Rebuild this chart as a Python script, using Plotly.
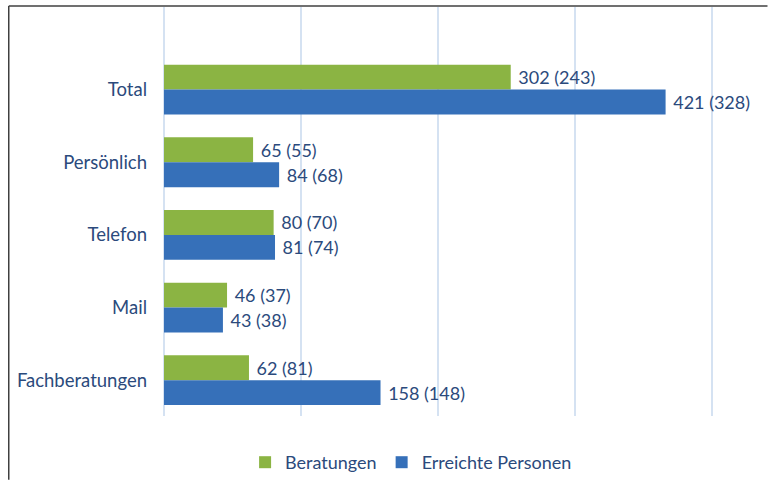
import plotly.graph_objects as go

categories = ["Total", "Persönlich", "Telefon", "Mail", "Fachberatungen"]
beratungen = [253, 65, 80, 46, 62]
beratungen_labels = ["302 (243)", "65 (55)", "80 (70)", "46 (37)", "62 (81)"]
personen = [366, 84, 81, 43, 158]
personen_labels = ["421 (328)", "84 (68)", "81 (74)", "43 (38)", "158 (148)"]

FONT = "Lato, 'Open Sans', sans-serif"
TXT = "#2B4A7C"

fig = go.Figure()
fig.add_trace(go.Bar(
    y=categories, x=beratungen, orientation="h", name="Beratungen",
    marker=dict(color="#8BB443", line=dict(width=0)),
    text=beratungen_labels, texttemplate="\u00a0%{text}",
    textposition="outside", cliponaxis=False,
    textfont=dict(family=FONT, size=18, color=TXT),
))
fig.add_trace(go.Bar(
    y=categories, x=personen, orientation="h", name="Erreichte Personen",
    marker=dict(color="#3670B9", line=dict(width=0)),
    text=personen_labels, texttemplate="\u00a0%{text}",
    textposition="outside", cliponaxis=False,
    textfont=dict(family=FONT, size=18, color=TXT),
))

W, H = 768, 481
L, R, T, B = 163.5, 0.5, 7, 64
pw = W - L - R
ph = H - T - B

def px_x(p):
    return (p - L) / pw

def px_y(p):
    return (H - B - p) / ph

fig.update_layout(
    width=W, height=H,
    margin=dict(l=L, r=R, t=T, b=B, pad=0),
    paper_bgcolor="white", plot_bgcolor="white",
    barmode="group", bargap=0.315, bargroupgap=0,
    font=dict(family=FONT, size=18, color=TXT),
    uniformtext=dict(minsize=18, mode="show"),
    xaxis=dict(range=[0, 440], tick0=0, dtick=100, showticklabels=False,
               showgrid=True, gridcolor="#D5E2F2", gridwidth=1.5,
               zeroline=True, zerolinecolor="#D5E2F2", zerolinewidth=1.5,
               showline=False, fixedrange=True),
    yaxis=dict(type="category", categoryorder="array", categoryarray=categories,
               range=[4.493, -1.137], showgrid=False, zeroline=False,
               showline=False, ticks="", ticklabelstandoff=16,
               tickfont=dict(family=FONT, size=18.5, color=TXT)),
    legend=dict(orientation="h", x=px_x(411), xanchor="center",
                y=px_y(463), yanchor="middle",
                font=dict(family=FONT, size=18, color=TXT),
                itemwidth=30, traceorder="normal", bgcolor="rgba(0,0,0,0)"),
    showlegend=True,
    shapes=[
        dict(type="line", xref="paper", yref="paper",
             x0=px_x(8), x1=px_x(768), y0=px_y(6), y1=px_y(6),
             line=dict(color="#404040", width=1.5)),
        dict(type="line", xref="paper", yref="paper",
             x0=px_x(8), x1=px_x(8), y0=px_y(6), y1=px_y(481),
             line=dict(color="#404040", width=1.5)),
    ],
)

fig.write_html("out.html", config={"displayModeBar": False},
               post_script="document.body.style.margin='0';document.body.style.overflow='hidden';")
